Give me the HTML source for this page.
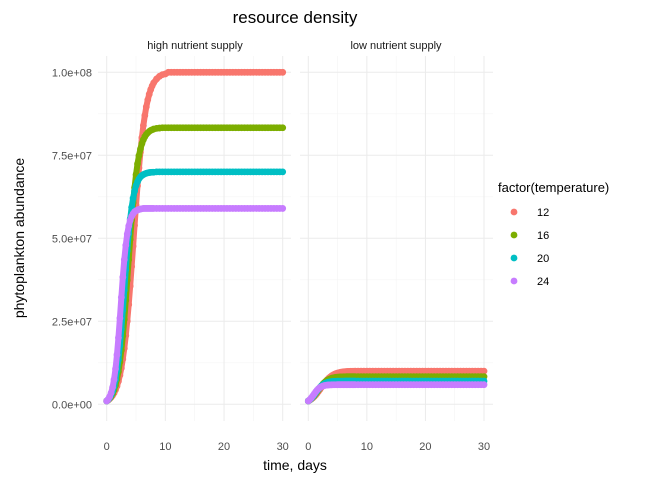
<!DOCTYPE html>
<html><head><meta charset="utf-8"><style>
body{margin:0;background:#fff;}
text{font-family:"Liberation Sans",sans-serif;}
</style></head><body>
<svg id="chart" width="672" height="480" xmlns="http://www.w3.org/2000/svg">
<rect width="672" height="480" fill="#fff"/>
<text x="295" y="23" font-size="17" text-anchor="middle" fill="#000">resource density</text>
<text x="195" y="49" font-size="11" text-anchor="middle" fill="#1a1a1a">high nutrient supply</text>
<text x="396" y="49" font-size="11" text-anchor="middle" fill="#1a1a1a">low nutrient supply</text>
<text transform="translate(24,238) rotate(-90)" font-size="14" text-anchor="middle" fill="#000">phytoplankton abundance</text>
<text x="295" y="470" font-size="14" text-anchor="middle" fill="#000">time, days</text>
<g id="grid"></g><g id="pts"></g><g id="ticks"></g>
<g id="legend">
<text x="498" y="192" font-size="13" fill="#000">factor(temperature)</text>
</g>
</svg>
<script>
const tempLabels=["12","16","20","24"];
const colors=["#F8766D","#7CAE00","#00BFC4","#C77CFF"];
const yTicks=[0,25,50,75,100];
const yTickLabels=["0.0e+00","2.5e+07","5.0e+07","7.5e+07","1.0e+08"];
const xTicks=[0,10,20,30];
// values in millions, times grid: 0..8 step .25, then 8.5..30 step .5
const high12=[1.00,1.28,1.64,2.09,2.67,3.40,4.33,5.49,6.94,8.75,10.95,13.64,16.87,20.67,25.05,30.0,35.6,41.5,47.6,53.9,60.0,65.8,71.2,76.0,80.3,84.0,87.0,89.6,91.7,93.4,94.8,95.9,96.8,98.0,98.8,99.3,99.5];
const high16=[1.00,1.34,1.80,2.42,3.23,4.30,5.71,7.52,9.83,12.76,16.3,20.6,25.6,31.3,37.4,43.5,49.7,55.5,60.7,65.3,69.2,72.4,74.9,76.9,78.5,79.7,80.6,81.3,81.8,82.2,82.5,82.7,82.9,83.1,83.2];
const high20=[1.00,1.41,1.99,2.78,3.89,5.39,7.41,10.06,13.47,17.7,22.7,28.3,34.4,40.5,46.2,51.4,55.8,59.3,62.1,64.2,65.9,67.0,67.9,68.5,68.9,69.2,69.4,69.6,69.7,69.8,69.85,69.9,69.9];
const high24=[1.00,1.52,2.29,3.43,5.09,7.44,10.67,14.9,20.1,26.0,32.3,38.3,43.6,47.9,51.3,53.7,55.4,56.6,57.4,58.0,58.3,58.5,58.7,58.8,58.9];
const low12=[1.0,1.25,1.55,1.90,2.32,2.79,3.32,3.90,4.51,5.13,5.75,6.35,6.91,7.41,7.86,8.25,8.58,8.86,9.09,9.28,9.43,9.55,9.64,9.72,9.78,9.83,9.87,9.90,9.92,9.94,9.95,9.96,9.97,9.98,9.99];
const low16=[1.0,1.30,1.66,2.09,2.60,3.16,3.77,4.39,5.00,5.58,6.10,6.56,6.94,7.26,7.50,7.70,7.86,7.97,8.06,8.13,8.18,8.22,8.25,8.27,8.29,8.30,8.31,8.32,8.32];
const low20=[1.0,1.34,1.76,2.26,2.82,3.43,4.03,4.61,5.13,5.57,5.93,6.21,6.42,6.58,6.70,6.79,6.85,6.89,6.92,6.95,6.96,6.97,6.98,6.99,6.99];
const low24=[1.0,1.40,1.91,2.49,3.11,3.72,4.27,4.72,5.07,5.33,5.51,5.64,5.73,5.79,5.83,5.85,5.87,5.88,5.89,5.89];
const plateauHigh=[100,83.3,70,59];
const plateauLow=[10,8.33,7,5.9];
const times=[];for(let t=0;t<=8;t+=0.25)times.push(t);for(let t=8.5;t<=30;t+=0.5)times.push(t);
function pad(a,k){const r=a.slice();while(r.length<times.length)r.push(k);return r;}
const panels=[
 {name:"high",x0:106.7,x1:282.7,left:98,right:291,series:[high12,high16,high20,high24],pl:plateauHigh},
 {name:"low",x0:308.3,x1:484,left:300,right:493,series:[low12,low16,low20,low24],pl:plateauLow}];
const yS=v=>404.3-v*3.32;
const NS="http://www.w3.org/2000/svg";
function mk(tag,at,parent){const e=document.createElementNS(NS,tag);for(const k in at)e.setAttribute(k,at[k]);parent.appendChild(e);return e;}
const grid=document.getElementById('grid'),pts=document.getElementById('pts'),tk=document.getElementById('ticks');
panels.forEach(p=>{
 const xS=t=>p.x0+(p.x1-p.x0)*t/30;
 for(let v=12.5;v<=100;v+=25){const l=mk('line',{x1:p.left,x2:p.right,y1:yS(v),y2:yS(v),stroke:'#f4f4f4','stroke-width':0.6},grid);}
 [5,15,25].forEach(t=>{const l=mk('line',{x1:xS(t),x2:xS(t),y1:56,y2:421,stroke:'#f4f4f4','stroke-width':0.6},grid);});
 yTicks.forEach(v=>{const l=mk('line',{x1:p.left,x2:p.right,y1:yS(v),y2:yS(v),stroke:'#ebebeb','stroke-width':1},grid);});
 xTicks.forEach(t=>{const l=mk('line',{x1:xS(t),x2:xS(t),y1:56,y2:421,stroke:'#ebebeb','stroke-width':1},grid);
  const tx=mk('text',{x:xS(t),y:450,'font-size':11,'text-anchor':'middle',fill:'#4d4d4d'},tk);tx.textContent=t;});
 p.series.forEach((s,i)=>{const vals=pad(s,p.pl[i]);
  const g=mk('g',{fill:colors[i]},pts);
  const ptsStr=vals.map((v,j)=>xS(times[j]).toFixed(2)+','+yS(v).toFixed(2)).join(' ');
  const pl=mk('polyline',{points:ptsStr,fill:'none',stroke:colors[i],'stroke-width':6,'stroke-linecap':'round','stroke-linejoin':'round'},g);
  
  vals.forEach((v,j)=>{const c=mk('circle',{cx:xS(times[j]),cy:yS(v),r:3.4},g);});});
});
yTicks.forEach((v,i)=>{const tx=mk('text',{x:92,y:yS(v)+4,'font-size':11,'text-anchor':'end',fill:'#4d4d4d'},tk);tx.textContent=yTickLabels[i];});
const lg=document.getElementById('legend');
tempLabels.forEach((t,i)=>{const y=212+i*23;
 const c=mk('circle',{cx:514,cy:y,r:3.4,fill:colors[i]},lg);
 const tx=mk('text',{x:537,y:y+4,'font-size':11,fill:'#000'},lg);tx.textContent=t;});
</script>
</body></html>
